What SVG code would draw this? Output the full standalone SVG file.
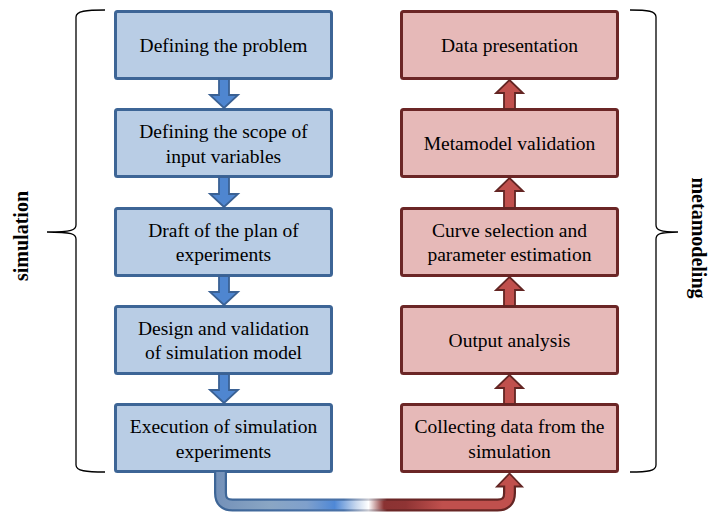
<svg xmlns="http://www.w3.org/2000/svg" width="713" height="513" viewBox="0 0 713 513">
  <style>
    .bl rect{fill:#b9cde5;stroke:#3d6596;stroke-width:3}
    .rd rect{fill:#e6b9b8;stroke:#6b2626;stroke-width:3}
    text{font-family:"Liberation Serif","Times New Roman",serif;font-size:19.5px;fill:#000;text-anchor:middle}
    .side{font-weight:bold;font-size:20px}
    .brace{fill:none;stroke:#000;stroke-width:1.3}
    .ab{fill:#4f86d0;stroke:#3a6194;stroke-width:1.8;stroke-linejoin:miter}
    .ar{fill:#c0504d;stroke:#632523;stroke-width:1.8;stroke-linejoin:miter}
  </style>
  <defs>
    <linearGradient id="gfill" gradientUnits="userSpaceOnUse" x1="214" y1="0" x2="523" y2="0">
      <stop offset="0" stop-color="#7390b8"/>
      <stop offset="0.18" stop-color="#8aa6c4"/>
      <stop offset="0.3" stop-color="#7fa0cc"/>
      <stop offset="0.39" stop-color="#4f88d6"/>
      <stop offset="0.46" stop-color="#c8d8ee"/>
      <stop offset="0.5" stop-color="#ffffff"/>
      <stop offset="0.55" stop-color="#8a3232"/>
      <stop offset="0.62" stop-color="#8f3434"/>
      <stop offset="0.74" stop-color="#c0504d"/>
      <stop offset="1" stop-color="#c0504d"/>
    </linearGradient>
    <linearGradient id="gline" gradientUnits="userSpaceOnUse" x1="214" y1="0" x2="523" y2="0">
      <stop offset="0" stop-color="#3d6596"/>
      <stop offset="0.42" stop-color="#4a72a8"/>
      <stop offset="0.5" stop-color="#c9c9d0"/>
      <stop offset="0.56" stop-color="#6b2626"/>
      <stop offset="1" stop-color="#632523"/>
    </linearGradient>
  </defs>

  <!-- braces and side labels -->
  <path class="brace" d="M105 10 C86 10 76 11 76 17 L76 225 C76 230 72 232 47 232 C72 232 76 234 76 239 L76 465 C76 471 86 472 105 472"/>
  <path class="brace" d="M630 10 C648 10 656 11 656 17 L656 225 C656 230 660 232 678 232 C660 232 656 234 656 239 L656 465 C656 471 648 472 630 472"/>
  <text class="side" transform="translate(28 236) rotate(-90)">simulation</text>
  <text class="side" transform="translate(692 238) rotate(90)">metamodeling</text>

  <!-- left column -->
  <g id="n1" class="bl"><rect x="115.5" y="11.5" width="216" height="67" rx="2"/><text x="223.5" y="52">Defining the problem</text></g>
  <g id="n2" class="bl"><rect x="115.5" y="109.5" width="216" height="67" rx="2"/><text x="223.5" y="138">Defining the scope of</text><text x="223.5" y="163">input variables</text></g>
  <g id="n3" class="bl"><rect x="115.5" y="208.5" width="216" height="67" rx="2"/><text x="223.5" y="237">Draft of the plan of</text><text x="223.5" y="261">experiments</text></g>
  <g id="n4" class="bl"><rect x="115.5" y="306.5" width="216" height="67" rx="2"/><text x="223.5" y="335">Design and validation</text><text x="223.5" y="359">of simulation model</text></g>
  <g id="n5" class="bl"><rect x="115.5" y="404.5" width="216" height="67" rx="2"/><text x="223.5" y="433">Execution of simulation</text><text x="223.5" y="458">experiments</text></g>

  <!-- right column -->
  <g id="m1" class="rd"><rect x="401.5" y="11.5" width="216" height="67" rx="2"/><text x="509.5" y="52">Data presentation</text></g>
  <g id="m2" class="rd"><rect x="401.5" y="109.5" width="216" height="67" rx="2"/><text x="509.5" y="150">Metamodel validation</text></g>
  <g id="m3" class="rd"><rect x="401.5" y="208.5" width="216" height="67" rx="2"/><text x="509.5" y="237">Curve selection and</text><text x="509.5" y="261">parameter estimation</text></g>
  <g id="m4" class="rd"><rect x="401.5" y="306.5" width="216" height="67" rx="2"/><text x="509.5" y="347">Output analysis</text></g>
  <g id="m5" class="rd"><rect x="401.5" y="404.5" width="216" height="67" rx="2"/><text x="509.5" y="433">Collecting data from the</text><text x="509.5" y="458">simulation</text></g>

  <g id="connectors">
    <polygon class="ab" points="219,79 229,79 229,95 238,95 224,108 210,95 219,95"/>
    <polygon class="ab" points="219,177 229,177 229,194 238,194 224,207 210,194 219,194"/>
    <polygon class="ab" points="219,276 229,276 229,292 238,292 224,305 210,292 219,292"/>
    <polygon class="ab" points="219,374 229,374 229,390 238,390 224,403 210,390 219,390"/>

    <polygon class="ar" points="504,109 515,109 515,93 523,93 509.5,80 496,93 504,93"/>
    <polygon class="ar" points="504,208 515,208 515,191 523,191 509.5,178 496,191 504,191"/>
    <polygon class="ar" points="504,306 515,306 515,290 523,290 509.5,277 496,290 504,290"/>
    <polygon class="ar" points="504,404 515,404 515,388 523,388 509.5,375 496,388 504,388"/>

    <path d="M220.5 472 V493 Q220.5 505 232.5 505 H497.5 Q509.5 505 509.5 493 V486" fill="none" stroke="url(#gline)" stroke-width="13"/>
    <polygon class="ar" points="497,486.5 522,486.5 509.5,473.5"/>
    <path d="M220.5 472 V493 Q220.5 505 232.5 505 H497.5 Q509.5 505 509.5 493 V485" fill="none" stroke="url(#gfill)" stroke-width="8.5"/>
  </g>
</svg>
